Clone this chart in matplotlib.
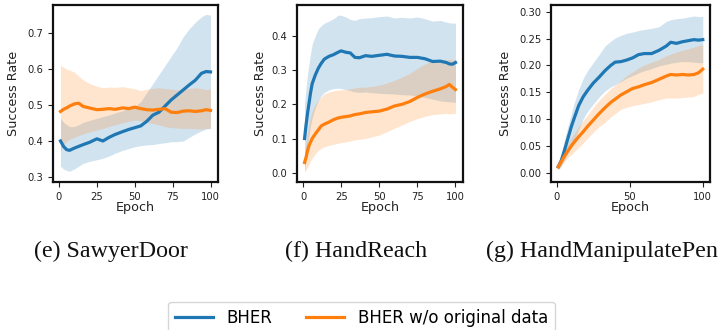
import matplotlib
matplotlib.use("Agg")
import matplotlib.pyplot as plt
import numpy as np

# --- SawyerDoor ---
door_epoch = [1, 3, 5, 7, 10, 13, 16, 20, 25, 29, 33, 37, 42, 46, 50, 54, 58, 62, 66, 70, 74, 78, 82, 86, 90, 94, 97, 100]
door_bher = [0.400, 0.385, 0.376, 0.374, 0.380, 0.385, 0.390, 0.396, 0.406, 0.400, 0.410, 0.418, 0.426, 0.432,
             0.437, 0.442, 0.455, 0.472, 0.480, 0.497, 0.514, 0.528, 0.542, 0.556, 0.569, 0.588, 0.593, 0.592]
door_bher_hi = [0.463, 0.452, 0.445, 0.440, 0.440, 0.445, 0.452, 0.457, 0.463, 0.468, 0.472, 0.478, 0.484, 0.490,
                0.495, 0.510, 0.535, 0.560, 0.585, 0.610, 0.635, 0.660, 0.690, 0.712, 0.730, 0.745, 0.752, 0.750]
door_bher_lo = [0.330, 0.322, 0.318, 0.316, 0.322, 0.330, 0.338, 0.343, 0.348, 0.352, 0.358, 0.366, 0.374, 0.379,
                0.384, 0.387, 0.389, 0.390, 0.393, 0.395, 0.398, 0.398, 0.400, 0.410, 0.420, 0.428, 0.433, 0.435]
door_noorig = [0.482, 0.488, 0.492, 0.497, 0.503, 0.505, 0.496, 0.492, 0.487, 0.488, 0.490, 0.488, 0.492, 0.490,
               0.494, 0.490, 0.487, 0.486, 0.488, 0.490, 0.480, 0.479, 0.483, 0.484, 0.482, 0.484, 0.487, 0.485]
door_noorig_hi = [0.610, 0.605, 0.600, 0.597, 0.592, 0.580, 0.570, 0.560, 0.552, 0.548, 0.550, 0.549, 0.551, 0.548,
                  0.545, 0.540, 0.544, 0.546, 0.548, 0.546, 0.544, 0.542, 0.544, 0.546, 0.548, 0.546, 0.543, 0.545]
door_noorig_lo = [0.370, 0.390, 0.400, 0.405, 0.410, 0.415, 0.420, 0.425, 0.430, 0.435, 0.440, 0.445, 0.450, 0.455,
                  0.458, 0.456, 0.452, 0.448, 0.445, 0.440, 0.437, 0.436, 0.435, 0.435, 0.434, 0.433, 0.435, 0.435]

# --- HandReach ---
reach_epoch = [1, 2, 3, 4, 5, 6, 8, 10, 12, 14, 17, 20, 23, 25, 28, 31, 34, 37, 41, 45, 50, 55, 60, 65, 70, 75, 80,
               85, 90, 94, 96, 98, 100]
reach_bher = [0.100, 0.140, 0.175, 0.205, 0.235, 0.260, 0.285, 0.305, 0.320, 0.332, 0.340, 0.345, 0.352, 0.356,
              0.352, 0.350, 0.337, 0.336, 0.342, 0.340, 0.343, 0.346, 0.341, 0.340, 0.337, 0.337, 0.333, 0.325,
              0.326, 0.322, 0.318, 0.317, 0.322]
reach_bher_hi = [0.200, 0.250, 0.290, 0.320, 0.350, 0.375, 0.400, 0.420, 0.430, 0.437, 0.443, 0.450, 0.460, 0.460,
                 0.455, 0.448, 0.445, 0.450, 0.452, 0.453, 0.456, 0.458, 0.452, 0.454, 0.452, 0.455, 0.450, 0.443,
                 0.445, 0.440, 0.438, 0.437, 0.437]
reach_bher_lo = [0.000, 0.040, 0.080, 0.110, 0.140, 0.160, 0.190, 0.210, 0.225, 0.235, 0.242, 0.246, 0.247, 0.246,
                 0.243, 0.240, 0.236, 0.235, 0.236, 0.234, 0.232, 0.231, 0.230, 0.228, 0.227, 0.225, 0.220, 0.215,
                 0.210, 0.208, 0.207, 0.207, 0.205]
reach_noorig = [0.030, 0.045, 0.065, 0.080, 0.090, 0.100, 0.113, 0.125, 0.137, 0.142, 0.148, 0.155, 0.160, 0.162,
                0.164, 0.166, 0.170, 0.172, 0.176, 0.178, 0.180, 0.186, 0.195, 0.200, 0.208, 0.220, 0.230, 0.238,
                0.245, 0.252, 0.258, 0.250, 0.243]
reach_noorig_hi = [0.060, 0.090, 0.120, 0.145, 0.165, 0.180, 0.200, 0.212, 0.222, 0.230, 0.236, 0.239, 0.241, 0.242,
                   0.243, 0.245, 0.248, 0.250, 0.250, 0.252, 0.256, 0.262, 0.270, 0.280, 0.290, 0.305, 0.318, 0.328,
                   0.330, 0.330, 0.332, 0.330, 0.330]
reach_noorig_lo = [0.005, 0.008, 0.015, 0.025, 0.035, 0.042, 0.055, 0.065, 0.072, 0.076, 0.080, 0.083, 0.086, 0.088,
                   0.090, 0.093, 0.096, 0.098, 0.100, 0.105, 0.110, 0.120, 0.130, 0.140, 0.150, 0.158, 0.165, 0.170,
                   0.172, 0.173, 0.172, 0.173, 0.173]

# --- HandManipulatePen ---
pen_epoch = [1, 3, 5, 7, 10, 12, 15, 18, 21, 25, 29, 33, 37, 40, 44, 48, 52, 56, 60, 65, 70, 75, 78, 82, 86, 90, 94,
             97, 100]
pen_bher = [0.011, 0.022, 0.039, 0.058, 0.086, 0.102, 0.125, 0.141, 0.153, 0.167, 0.178, 0.190, 0.200, 0.206, 0.207,
            0.210, 0.214, 0.220, 0.222, 0.222, 0.228, 0.236, 0.243, 0.241, 0.244, 0.246, 0.248, 0.247, 0.248]
pen_bher_hi = [0.014, 0.035, 0.058, 0.080, 0.110, 0.130, 0.155, 0.175, 0.190, 0.205, 0.220, 0.236, 0.245, 0.251,
               0.256, 0.260, 0.262, 0.265, 0.267, 0.269, 0.272, 0.282, 0.285, 0.287, 0.288, 0.290, 0.292, 0.291, 0.291]
pen_bher_lo = [0.005, 0.012, 0.022, 0.032, 0.048, 0.060, 0.080, 0.100, 0.114, 0.128, 0.141, 0.152, 0.160, 0.164,
               0.170, 0.176, 0.181, 0.186, 0.190, 0.194, 0.199, 0.202, 0.204, 0.206, 0.207, 0.207, 0.206, 0.205, 0.205]
pen_noorig = [0.011, 0.020, 0.030, 0.038, 0.050, 0.057, 0.067, 0.076, 0.086, 0.098, 0.110, 0.121, 0.131, 0.137, 0.145,
              0.151, 0.157, 0.160, 0.164, 0.168, 0.174, 0.180, 0.183, 0.182, 0.183, 0.182, 0.183, 0.186, 0.193]
pen_noorig_hi = [0.017, 0.028, 0.040, 0.051, 0.065, 0.074, 0.086, 0.097, 0.107, 0.122, 0.135, 0.146, 0.157, 0.163,
                 0.172, 0.181, 0.188, 0.195, 0.201, 0.206, 0.211, 0.218, 0.221, 0.225, 0.228, 0.231, 0.234, 0.237, 0.238]
pen_noorig_lo = [0.005, 0.012, 0.019, 0.026, 0.034, 0.039, 0.047, 0.055, 0.064, 0.075, 0.086, 0.094, 0.104, 0.110,
                 0.118, 0.122, 0.125, 0.127, 0.129, 0.132, 0.136, 0.139, 0.139, 0.139, 0.140, 0.141, 0.142, 0.146, 0.148]

captions = ["(e) SawyerDoor", "(f) HandReach", "(g) HandManipulatePen"]
series_labels = ["BHER", "BHER w/o original data"]
colors = ["#1f77b4", "#ff7f0e"]

panels = [
    dict(epoch=door_epoch, runs=[(door_bher, door_bher_lo, door_bher_hi), (door_noorig, door_noorig_lo, door_noorig_hi)],
         rect=[53, 218], ylim=(0.286, 0.778), yticks=[0.3, 0.4, 0.5, 0.6, 0.7], yfmt="%.1f",
         xticks=[0, 25, 50, 75, 100], ylab_x=20, cap_x=111),
    dict(epoch=reach_epoch, runs=[(reach_bher, reach_bher_lo, reach_bher_hi), (reach_noorig, reach_noorig_lo, reach_noorig_hi)],
         rect=[297, 463], ylim=(-0.027, 0.49), yticks=[0.0, 0.1, 0.2, 0.3, 0.4], yfmt="%.1f",
         xticks=[0, 25, 50, 75, 100], ylab_x=267, cap_x=356.5),
    dict(epoch=pen_epoch, runs=[(pen_bher, pen_bher_lo, pen_bher_hi), (pen_noorig, pen_noorig_lo, pen_noorig_hi)],
         rect=[551, 710], ylim=(-0.0174, 0.3125), yticks=[0.0, 0.05, 0.10, 0.15, 0.20, 0.25, 0.30], yfmt="%.2f",
         xticks=[0, 50, 100], ylab_x=512, cap_x=601.5),
]

W, H = 721, 330
fig = plt.figure(figsize=(W / 100, H / 100), dpi=100)

top_px, bot_px = 5, 182
handles = []
for p, cap in zip(panels, captions):
    x0, x1 = p["rect"]
    ax = fig.add_axes([x0 / W, 1 - bot_px / H, (x1 - x0) / W, (bot_px - top_px) / H])
    ep = np.array(p["epoch"])
    handles = []
    for (mean, lo, hi), c, lab in zip(p["runs"], colors, series_labels):
        ax.fill_between(ep, lo, hi, color=c, alpha=0.2, linewidth=0)
        h, = ax.plot(ep, mean, color=c, linewidth=2.3, label=lab)
        handles.append(h)

    ax.set_ylim(*p["ylim"])
    ax.set_xlim(-3.95, 104.95)
    ax.set_yticks(p["yticks"])
    ax.yaxis.set_major_formatter(matplotlib.ticker.FormatStrFormatter(p["yfmt"]))
    ax.set_xticks(p["xticks"])
    ax.tick_params(labelsize=7.2, length=3.5, width=0.8, colors="#222222")
    for s in ax.spines.values():
        s.set_linewidth(1.6)
        s.set_color("#111111")

    ax.set_xlabel("Epoch", fontsize=9.2, color="#222222")
    ax.set_ylabel("Success Rate", fontsize=9.2, color="#222222")
    ax.xaxis.set_label_coords(0.5, -0.108)
    ax.yaxis.set_label_coords((p["ylab_x"] - x0) / (x1 - x0), 0.5)

    fig.text(p["cap_x"] / W, 1 - 251 / H, cap, ha="center", va="center",
             family="Liberation Serif", fontsize=17.3, color="#111111")

fig.legend(handles, series_labels, loc="upper center", bbox_to_anchor=(361.5 / W, 1 - 302 / H),
           ncol=2, fontsize=12, handlelength=2.3, columnspacing=2.0, frameon=True,
           borderaxespad=0.0)

fig.savefig("out.png", dpi=100)
